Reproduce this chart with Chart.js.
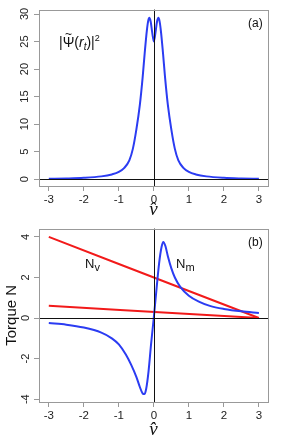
<!DOCTYPE html>
<html>
<head>
<meta charset="utf-8">
<script src="https://cdn.jsdelivr.net/npm/chart.js@4.4.0/dist/chart.umd.min.js"></script>
<style>
  html, body { margin: 0; padding: 0; background: #fff; }
  #wrap { position: relative; width: 291px; height: 444px; }
  canvas { position: absolute; left: 0; }
</style>
</head>
<body>
<div id="wrap">
  <canvas id="topChart" width="291" height="219" style="top:0"></canvas>
  <canvas id="botChart" width="291" height="225" style="top:219px"></canvas>
</div>
<script>
// panel (a): |psi(r_t)|^2 against v-hat
const psiX = [-3, -2.5, -2, -1.5, -1.2, -1, -0.85, -0.7, -0.6, -0.5, -0.4, -0.32, -0.26, -0.2, -0.16, -0.13, -0.09, -0.05, 0,
              0.05, 0.09, 0.13, 0.16, 0.2, 0.26, 0.32, 0.4, 0.5, 0.6, 0.7, 0.85, 1, 1.2, 1.5, 2, 2.5, 3];
const psiY = [0.05, 0.12, 0.24, 0.5, 0.85, 1.3, 2.0, 3.4, 5.5, 9.0, 13.5, 18.5, 23, 27, 28.8, 29.3, 28.6, 26.8, 25.0,
              26.8, 28.6, 29.3, 28.8, 27, 23, 18.5, 13.5, 9.0, 5.5, 3.4, 2.0, 1.3, 0.85, 0.5, 0.24, 0.12, 0.05];

// panel (b): torques
const nmX = [-3, -2.5, -2, -1.5, -1.2, -1, -0.8, -0.65, -0.5, -0.4, -0.32, -0.27, -0.22, -0.15, -0.08, 0,
             0.08, 0.15, 0.22, 0.27, 0.33, 0.4, 0.5, 0.6, 0.75, 1, 1.3, 1.6, 2, 2.5, 3];
const nmY = [-0.25, -0.33, -0.47, -0.72, -1.0, -1.3, -1.8, -2.3, -2.9, -3.4, -3.72, -3.75, -3.5, -2.6, -1.3, 0.05,
             1.5, 2.7, 3.5, 3.75, 3.55, 3.05, 2.45, 2.0, 1.55, 1.1, 0.8, 0.6, 0.45, 0.33, 0.25];
const nvX = [-3, 3];
const nv1Y = [4, 0];
const nv2Y = [0.6, 0];

const xTicks = [-3, -2, -1, 0, 1, 2, 3];
const yTicksA = [0, 5, 10, 15, 20, 25, 30];
const yTicksB = [-4, -2, 0, 2, 4];

const BLUE = '#2b3cf2';
const RED = '#f21a1a';
const FONT = 'Liberation Sans, Arial, sans-serif';

function pts(xs, ys) {
  return xs.map((x, i) => ({ x: x, y: ys[i] }));
}

// gray box, zero lines and text labels
function framePlugin(labels) {
  return {
    id: 'frame',
    afterDatasetsDraw(chart) {
      const ctx = chart.ctx;
      const a = chart.chartArea;
      const xs = chart.scales.x, ys = chart.scales.y;
      ctx.save();
      ctx.strokeStyle = '#111';
      ctx.lineWidth = 1;
      const x0 = Math.round(xs.getPixelForValue(0)) + 0.5;
      const y0 = Math.round(ys.getPixelForValue(0)) + 0.5;
      ctx.beginPath();
      ctx.moveTo(x0, a.top); ctx.lineTo(x0, a.bottom);
      ctx.moveTo(a.left, y0); ctx.lineTo(a.right, y0);
      ctx.stroke();
      ctx.strokeStyle = '#999';
      ctx.strokeRect(Math.round(a.left) + 0.5, Math.round(a.top) + 0.5,
        Math.round(a.right - a.left), Math.round(a.bottom - a.top));
      ctx.fillStyle = '#111';
      ctx.textBaseline = 'alphabetic';
      labels.forEach(l => {
        let x = l.x;
        l.parts.forEach(p => {
          ctx.font = (p.italic ? 'italic ' : '') + p.size + 'px ' + (p.family || FONT);
          const w = ctx.measureText(p.t).width;
          ctx.fillText(p.t, x, l.y + (p.dy || 0));
          if (p.tilde) {
            ctx.font = (p.size - 2) + 'px ' + FONT;
            ctx.textAlign = 'center';
            ctx.fillText('~', x + w / 2, l.y - p.size * 0.62);
            ctx.textAlign = 'left';
          }
          x += w;
        });
      });
      ctx.restore();
    }
  };
}

function axisOpts(ticks, yTitle) {
  return {
    x: {
      type: 'linear', min: -3.28, max: 3.26,
      afterBuildTicks: s => { s.ticks = xTicks.map(v => ({ value: v })); },
      ticks: { includeBounds: false, color: '#222', font: { size: 11.5, family: FONT }, padding: 2, maxRotation: 0 },
      grid: { drawOnChartArea: false, drawTicks: true, tickLength: 5, color: '#999' },
      border: { display: false },
      title: { display: true, text: 'v\u0302', color: '#111',
               font: { size: 19, family: 'Liberation Serif, serif', style: 'italic', lineHeight: 1 },
               padding: { top: 0, bottom: 0 } }
    },
    y: {
      type: 'linear',
      afterBuildTicks: s => { s.ticks = ticks.map(v => ({ value: v })); },
      afterFit: s => { s.width = 39; },
      ticks: { includeBounds: false, color: '#222', font: { size: 11, family: FONT }, padding: 3,
               minRotation: 90, maxRotation: 90, crossAlign: 'center' },
      grid: { drawOnChartArea: false, drawTicks: true, tickLength: 5, color: '#999' },
      border: { display: false },
      title: { display: !!yTitle, text: yTitle || '', color: '#111',
               font: { size: 15, family: FONT }, padding: { top: 3, bottom: 0 } }
    }
  };
}

const baseLine = { pointRadius: 0, borderWidth: 2, fill: false, cubicInterpolationMode: 'monotone' };

const topScales = axisOpts(yTicksA);
topScales.y.min = -1.25; topScales.y.max = 30.8;
topScales.x.afterFit = s => { s.height = 219 - 186; };
topScales.x.title.padding = { top: 0, bottom: 0 };

new Chart(document.getElementById('topChart'), {
  type: 'line',
  data: {
    datasets: [Object.assign({ label: 'psi', data: pts(psiX, psiY), borderColor: BLUE }, baseLine)]
  },
  options: {
    responsive: false, animation: false,
    layout: { padding: { top: 7, right: 23, left: 0, bottom: 0 } },
    plugins: { legend: { display: false }, tooltip: { enabled: false } },
    scales: topScales
  },
  plugins: [framePlugin([
    { x: 59, y: 47, parts: [
      { t: '|', size: 14 },
      { t: '\u03A8', size: 14, tilde: true },
      { t: '(', size: 14 },
      { t: 'r', size: 14, italic: true },
      { t: 't', size: 10, italic: true, dy: 3 },
      { t: ')|', size: 14 },
      { t: '2', size: 9, dy: -6 }
    ] },
    { x: 248, y: 27, parts: [{ t: '(a)', size: 12 }] }
  ])]
});

const botScales = axisOpts(yTicksB, 'Torque N');
botScales.y.min = -4.14; botScales.y.max = 4.41;
botScales.x.afterFit = s => { s.height = 225 - 183; };
botScales.x.title.padding = { top: 0, bottom: 5 };

new Chart(document.getElementById('botChart'), {
  type: 'line',
  data: {
    datasets: [
      Object.assign({ label: 'Nm', data: pts(nmX, nmY), borderColor: BLUE }, baseLine),
      Object.assign({ label: 'Nv1', data: pts(nvX, nv1Y), borderColor: RED }, baseLine),
      Object.assign({ label: 'Nv2', data: pts(nvX, nv2Y), borderColor: RED }, baseLine)
    ]
  },
  options: {
    responsive: false, animation: false,
    layout: { padding: { top: 3, right: 23, left: 0, bottom: 0 } },
    plugins: { legend: { display: false }, tooltip: { enabled: false } },
    scales: botScales
  },
  plugins: [framePlugin([
    { x: 85, y: 49, parts: [{ t: 'N', size: 13 }, { t: 'v', size: 11, dy: 3 }] },
    { x: 176, y: 49, parts: [{ t: 'N', size: 13 }, { t: 'm', size: 11, dy: 3 }] },
    { x: 248, y: 27, parts: [{ t: '(b)', size: 12 }] }
  ])]
});
</script>
</body>
</html>
